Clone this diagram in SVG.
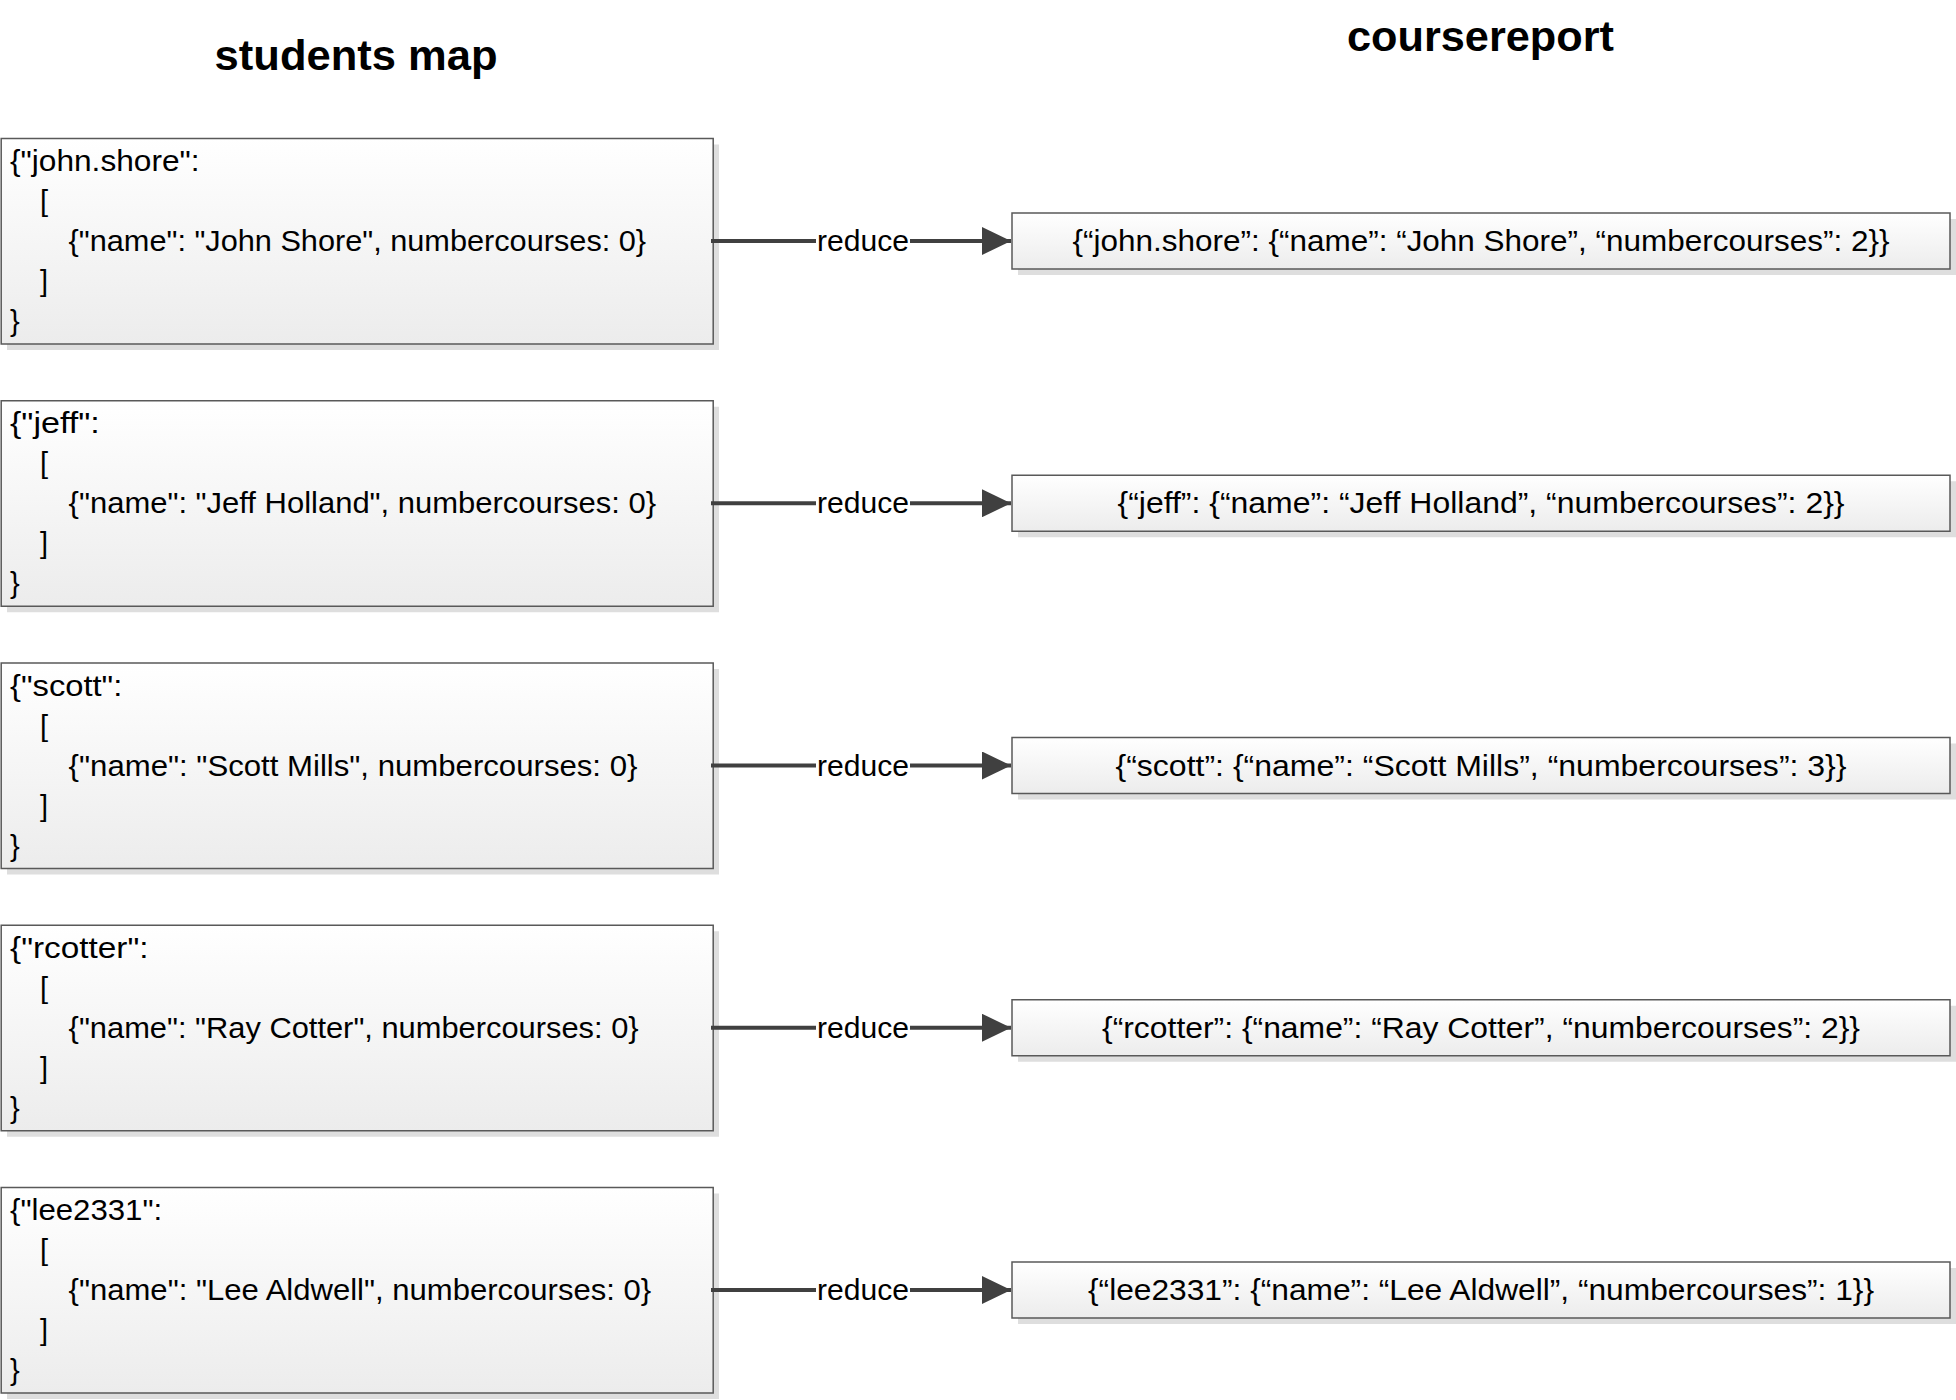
<svg xmlns="http://www.w3.org/2000/svg" width="1956" height="1400" viewBox="0 0 1956 1400">
<style>
.t{font-family:"Liberation Sans",Arial,sans-serif;font-size:29px;fill:#000}
.h{font-family:"Liberation Sans",Arial,sans-serif;font-size:42px;font-weight:bold;fill:#000}
.box{fill:url(#g);stroke:#595959;stroke-width:1.5}
.sh{fill:#dedede}
.ln{stroke:#404040;stroke-width:4;fill:none}
.lbl{fill:#fff}
</style>
<defs>
<linearGradient id="g" x1="0" y1="0" x2="0" y2="1">
<stop offset="0" stop-color="#ffffff"/>
<stop offset="1" stop-color="#ececec"/>
</linearGradient>
<marker id="ah" markerUnits="userSpaceOnUse" markerWidth="30" markerHeight="28" refX="29" refY="14" orient="auto">
<path d="M0,0 L29,14 L0,28 Z" fill="#404040"/>
</marker>
</defs>
<rect width="1956" height="1400" fill="#fff"/>
<text class="h" x="214.6" y="70" textLength="283" lengthAdjust="spacingAndGlyphs">students map</text>
<text class="h" x="1347" y="51" textLength="267" lengthAdjust="spacingAndGlyphs">coursereport</text>

<g id="s1">
<rect class="sh" x="7" y="144.5" width="712" height="205.5"/>
<rect class="box" x="1.2" y="138.5" width="712" height="205.5"/>
<text class="t" x="10" y="171" textLength="189.6" lengthAdjust="spacingAndGlyphs">{"john.shore":</text>
<text class="t" x="40" y="211">[</text>
<text class="t" x="68.6" y="251" textLength="577.5" lengthAdjust="spacingAndGlyphs">{"name": "John Shore", numbercourses: 0}</text>
<text class="t" x="40" y="291">]</text>
<text class="t" x="10" y="331">}</text>
</g>
<g id="s2">
<rect class="sh" x="7" y="406.75" width="712" height="205.5"/>
<rect class="box" x="1.2" y="400.75" width="712" height="205.5"/>
<text class="t" x="10" y="433.25" textLength="89.8" lengthAdjust="spacingAndGlyphs">{"jeff":</text>
<text class="t" x="40" y="473.25">[</text>
<text class="t" x="68.6" y="513.25" textLength="587.5" lengthAdjust="spacingAndGlyphs">{"name": "Jeff Holland", numbercourses: 0}</text>
<text class="t" x="40" y="553.25">]</text>
<text class="t" x="10" y="593.25">}</text>
</g>
<g id="s3">
<rect class="sh" x="7" y="669" width="712" height="205.5"/>
<rect class="box" x="1.2" y="663" width="712" height="205.5"/>
<text class="t" x="10" y="695.5" textLength="112.3" lengthAdjust="spacingAndGlyphs">{"scott":</text>
<text class="t" x="40" y="735.5">[</text>
<text class="t" x="68.6" y="775.5" textLength="568.8" lengthAdjust="spacingAndGlyphs">{"name": "Scott Mills", numbercourses: 0}</text>
<text class="t" x="40" y="815.5">]</text>
<text class="t" x="10" y="855.5">}</text>
</g>
<g id="s4">
<rect class="sh" x="7" y="931.25" width="712" height="205.5"/>
<rect class="box" x="1.2" y="925.25" width="712" height="205.5"/>
<text class="t" x="10" y="957.75" textLength="138.5" lengthAdjust="spacingAndGlyphs">{"rcotter":</text>
<text class="t" x="40" y="997.75">[</text>
<text class="t" x="68.6" y="1037.75" textLength="570" lengthAdjust="spacingAndGlyphs">{"name": "Ray Cotter", numbercourses: 0}</text>
<text class="t" x="40" y="1077.75">]</text>
<text class="t" x="10" y="1117.75">}</text>
</g>
<g id="s5">
<rect class="sh" x="7" y="1193.5" width="712" height="205.5"/>
<rect class="box" x="1.2" y="1187.5" width="712" height="205.5"/>
<text class="t" x="10" y="1220" textLength="152.2" lengthAdjust="spacingAndGlyphs">{"lee2331":</text>
<text class="t" x="40" y="1260">[</text>
<text class="t" x="68.6" y="1300" textLength="582.5" lengthAdjust="spacingAndGlyphs">{"name": "Lee Aldwell", numbercourses: 0}</text>
<text class="t" x="40" y="1340">]</text>
<text class="t" x="10" y="1380">}</text>
</g>

<g id="r1">
<rect class="sh" x="1018" y="219" width="938" height="56"/>
<rect class="box" x="1012" y="213" width="938" height="56"/>
<text class="t" x="1481" y="251" text-anchor="middle" textLength="817" lengthAdjust="spacingAndGlyphs">{“john.shore”: {“name”: “John Shore”, “numbercourses”: 2}}</text>
</g>
<g id="r2">
<rect class="sh" x="1018" y="481.25" width="938" height="56"/>
<rect class="box" x="1012" y="475.25" width="938" height="56"/>
<text class="t" x="1481" y="513.25" text-anchor="middle" textLength="727" lengthAdjust="spacingAndGlyphs">{“jeff”: {“name”: “Jeff Holland”, “numbercourses”: 2}}</text>
</g>
<g id="r3">
<rect class="sh" x="1018" y="743.5" width="938" height="56"/>
<rect class="box" x="1012" y="737.5" width="938" height="56"/>
<text class="t" x="1481" y="775.5" text-anchor="middle" textLength="731" lengthAdjust="spacingAndGlyphs">{“scott”: {“name”: “Scott Mills”, “numbercourses”: 3}}</text>
</g>
<g id="r4">
<rect class="sh" x="1018" y="1005.75" width="938" height="56"/>
<rect class="box" x="1012" y="999.75" width="938" height="56"/>
<text class="t" x="1481" y="1037.75" text-anchor="middle" textLength="758" lengthAdjust="spacingAndGlyphs">{“rcotter”: {“name”: “Ray Cotter”, “numbercourses”: 2}}</text>
</g>
<g id="r5">
<rect class="sh" x="1018" y="1268" width="938" height="56"/>
<rect class="box" x="1012" y="1262" width="938" height="56"/>
<text class="t" x="1481" y="1300" text-anchor="middle" textLength="786" lengthAdjust="spacingAndGlyphs">{“lee2331”: {“name”: “Lee Aldwell”, “numbercourses”: 1}}</text>
</g>

<g id="connectors">
<line class="ln" x1="711" y1="241" x2="1011" y2="241" marker-end="url(#ah)"/>
<rect class="lbl" x="816" y="224" width="94" height="34"/>
<text class="t" x="863" y="251" text-anchor="middle" textLength="92" lengthAdjust="spacingAndGlyphs">reduce</text>
<line class="ln" x1="711" y1="503.25" x2="1011" y2="503.25" marker-end="url(#ah)"/>
<rect class="lbl" x="816" y="486.25" width="94" height="34"/>
<text class="t" x="863" y="513.25" text-anchor="middle" textLength="92" lengthAdjust="spacingAndGlyphs">reduce</text>
<line class="ln" x1="711" y1="765.5" x2="1011" y2="765.5" marker-end="url(#ah)"/>
<rect class="lbl" x="816" y="748.5" width="94" height="34"/>
<text class="t" x="863" y="775.5" text-anchor="middle" textLength="92" lengthAdjust="spacingAndGlyphs">reduce</text>
<line class="ln" x1="711" y1="1027.75" x2="1011" y2="1027.75" marker-end="url(#ah)"/>
<rect class="lbl" x="816" y="1010.75" width="94" height="34"/>
<text class="t" x="863" y="1037.75" text-anchor="middle" textLength="92" lengthAdjust="spacingAndGlyphs">reduce</text>
<line class="ln" x1="711" y1="1290" x2="1011" y2="1290" marker-end="url(#ah)"/>
<rect class="lbl" x="816" y="1273" width="94" height="34"/>
<text class="t" x="863" y="1300" text-anchor="middle" textLength="92" lengthAdjust="spacingAndGlyphs">reduce</text>
</g>
</svg>
